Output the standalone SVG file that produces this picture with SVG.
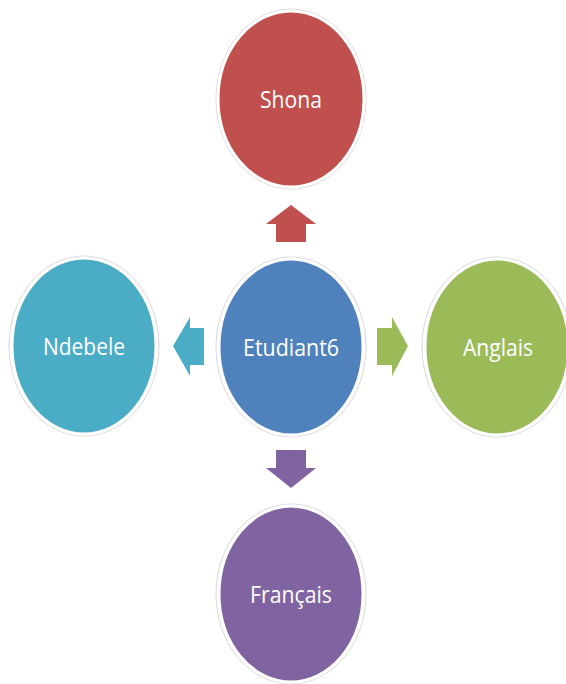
<svg xmlns="http://www.w3.org/2000/svg" width="566" height="684" viewBox="0 0 566 684">
<style>
.halo{fill:none;stroke:#d9d9d9;stroke-width:1}
.node{stroke:#ffffff;stroke-width:3}
.lbl{font-family:"Open Sans","Liberation Sans",sans-serif;font-size:24px;fill:#ffffff;text-anchor:middle}
</style>
<rect width="566" height="684" fill="#ffffff"/>
<g id="connectors">
<polygon points="291,205 316,224 306,224 306,242 276,242 276,224 266,224" fill="#C0504D"/>
<polygon points="173,346 190,317 190,328 204,328 204,365 190,365 190,376" fill="#4BACC6"/>
<polygon points="408,346 392,317 392,328 377,328 377,365 392,365 392,376" fill="#9BBB59"/>
<polygon points="291,488 316,468 306,468 306,450 276,450 276,468 266,468" fill="#8064A2"/>
</g>
<g id="shona">
<ellipse class="halo" cx="291" cy="99" rx="75" ry="90"/>
<ellipse class="node" cx="291" cy="99" rx="73" ry="88" fill="#C0504D"/>
<text class="lbl" x="291" y="108" textLength="62" lengthAdjust="spacingAndGlyphs">Shona</text>
</g>
<g id="etudiant6">
<ellipse class="halo" cx="291" cy="347" rx="75" ry="90"/>
<ellipse class="node" cx="291" cy="347" rx="72" ry="88" fill="#4F81BD"/>
<text class="lbl" x="291" y="356" textLength="96" lengthAdjust="spacingAndGlyphs">Etudiant6</text>
</g>
<g id="ndebele">
<ellipse class="halo" cx="84" cy="346" rx="75" ry="90"/>
<ellipse class="node" cx="84" cy="346" rx="72" ry="88" fill="#4BACC6"/>
<text class="lbl" x="84" y="355" textLength="82" lengthAdjust="spacingAndGlyphs">Ndebele</text>
</g>
<g id="anglais">
<ellipse class="halo" cx="497" cy="347" rx="75" ry="90"/>
<ellipse class="node" cx="497" cy="347" rx="72" ry="88" fill="#9BBB59"/>
<text class="lbl" x="498" y="356" textLength="70" lengthAdjust="spacingAndGlyphs">Anglais</text>
</g>
<g id="francais">
<ellipse class="halo" cx="291" cy="594" rx="75" ry="90"/>
<ellipse class="node" cx="291" cy="594" rx="72" ry="88" fill="#8064A2"/>
<text class="lbl" x="291" y="603" textLength="82" lengthAdjust="spacingAndGlyphs">Français</text>
</g>
</svg>
